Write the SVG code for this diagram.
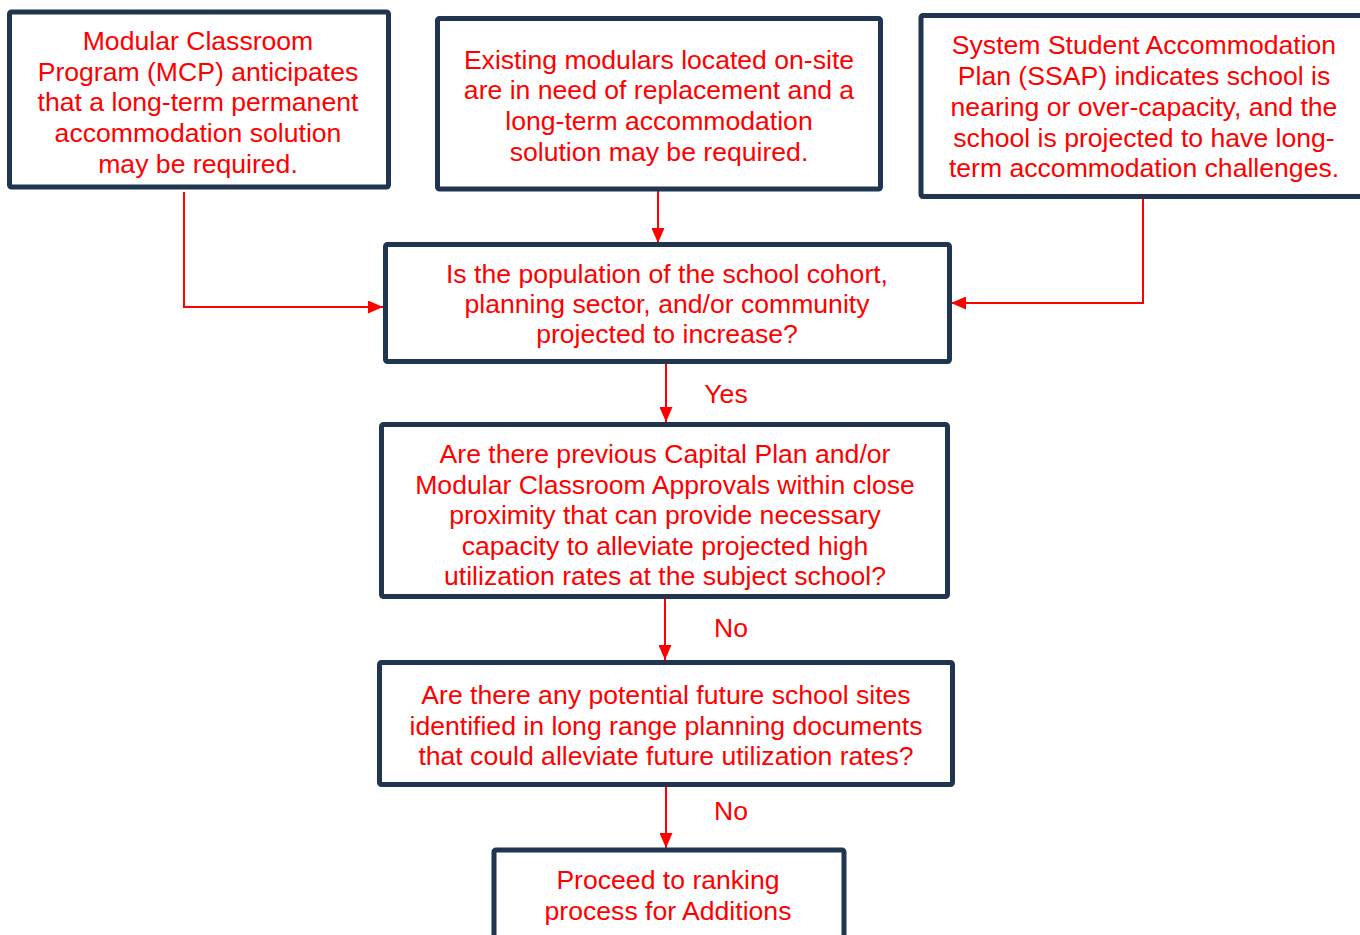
<svg xmlns="http://www.w3.org/2000/svg" width="1360" height="935" viewBox="0 0 1360 935">
<style>
.box{fill:#ffffff;stroke:#1f3550;stroke-width:5;}
.t{font-family:"Liberation Sans",Arial,sans-serif;font-size:26.6px;fill:#ff0000;text-anchor:middle;}
.c{fill:none;stroke:#ff0000;stroke-width:2;}
</style>
<defs>
<marker id="ah" markerUnits="userSpaceOnUse" markerWidth="15" markerHeight="13" refX="15" refY="6.5" orient="auto">
<path d="M0,0 L15,6.5 L0,13 z" fill="#ff0000"/>
</marker>
</defs>
<rect width="1360" height="935" fill="#ffffff"/>
<g id="connectors">
<path class="c" d="M184,192 V307 H383" marker-end="url(#ah)"/>
<path class="c" d="M658,191 V243" marker-end="url(#ah)"/>
<path class="c" d="M1143,199 V303 H951" marker-end="url(#ah)"/>
<path class="c" d="M666,364 V422" marker-end="url(#ah)"/>
<path class="c" d="M665,599 V660" marker-end="url(#ah)"/>
<path class="c" d="M666,787 V848" marker-end="url(#ah)"/>
<text class="t" x="726" y="403">Yes</text>
<text class="t" x="731" y="637">No</text>
<text class="t" x="731" y="820">No</text>
</g>
<g id="n1">
<rect class="box" x="9.5" y="12" width="379" height="175" rx="2"/>
<text class="t" x="198" y="50">Modular Classroom</text>
<text class="t" x="198" y="81">Program (MCP) anticipates</text>
<text class="t" x="198" y="111">that a long-term permanent</text>
<text class="t" x="198" y="142">accommodation solution</text>
<text class="t" x="198" y="173">may be required.</text>
</g>
<g id="n2">
<rect class="box" x="437.5" y="18.5" width="443" height="170.5" rx="2"/>
<text class="t" x="659" y="69">Existing modulars located on-site</text>
<text class="t" x="659" y="99">are in need of replacement and a</text>
<text class="t" x="659" y="130">long-term accommodation</text>
<text class="t" x="659" y="161">solution may be required.</text>
</g>
<g id="n3">
<rect class="box" x="921" y="15.5" width="446" height="181" rx="2"/>
<text class="t" x="1144" y="54">System Student Accommodation</text>
<text class="t" x="1144" y="85">Plan (SSAP) indicates school is</text>
<text class="t" x="1144" y="116">nearing or over-capacity, and the</text>
<text class="t" x="1144" y="147">school is projected to have long-</text>
<text class="t" x="1144" y="177">term accommodation challenges.</text>
</g>
<g id="n4">
<rect class="box" x="385.5" y="244.5" width="564" height="117" rx="2"/>
<text class="t" x="667" y="283">Is the population of the school cohort,</text>
<text class="t" x="667" y="313">planning sector, and/or community</text>
<text class="t" x="667" y="343">projected to increase?</text>
</g>
<g id="n5">
<rect class="box" x="381.5" y="424.5" width="566" height="172" rx="2"/>
<text class="t" x="665" y="463">Are there previous Capital Plan and/or</text>
<text class="t" x="665" y="494">Modular Classroom Approvals within close</text>
<text class="t" x="665" y="524">proximity that can provide necessary</text>
<text class="t" x="665" y="555">capacity to alleviate projected high</text>
<text class="t" x="665" y="585">utilization rates at the subject school?</text>
</g>
<g id="n6">
<rect class="box" x="379.5" y="662.5" width="573" height="122" rx="2"/>
<text class="t" x="666" y="704">Are there any potential future school sites</text>
<text class="t" x="666" y="735">identified in long range planning documents</text>
<text class="t" x="666" y="765">that could alleviate future utilization rates?</text>
</g>
<g id="n7">
<rect class="box" x="494" y="850" width="350" height="110" rx="2"/>
<text class="t" x="668" y="889">Proceed to ranking</text>
<text class="t" x="668" y="920">process for Additions</text>
</g>
</svg>
